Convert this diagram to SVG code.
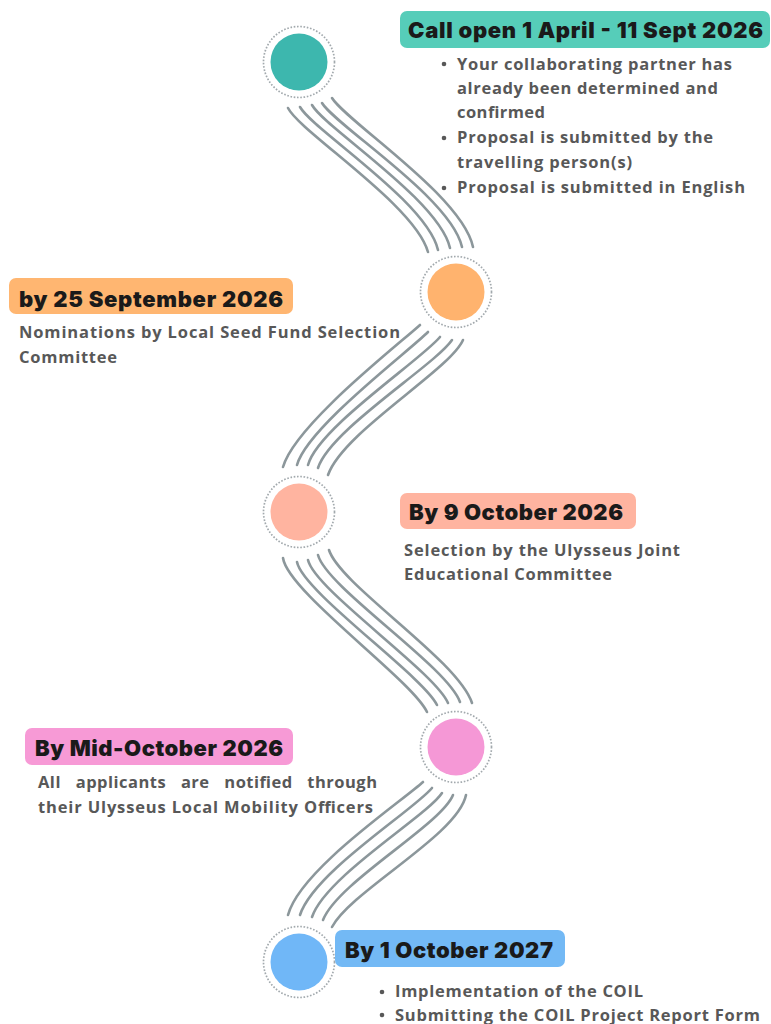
<svg xmlns="http://www.w3.org/2000/svg" width="771" height="1024" viewBox="0 0 771 1024">
<style>
.title{font-family:"Inter","Liberation Sans",sans-serif;font-weight:900;font-size:22px;fill:#1a1a1a}
.body{font-family:"Open Sans","Liberation Sans",sans-serif;font-weight:700;font-size:16.5px;fill:#585858}
.ring{fill:#ffffff;stroke:#a2a9ad;stroke-width:1.7;stroke-dasharray:1.6 1.7}
.wave{fill:none;stroke:#8c979b;stroke-width:2.6;stroke-linecap:round}
.dot{fill:#585858}
</style>
<rect width="771" height="1024" fill="#ffffff"/>
<g id="connectors">
<g id="c1">
<path class="wave" d="M288,108 C300,132 415,205 428,252"/>
<path class="wave" d="M300,107 C313,130 427,202 438,250"/>
<path class="wave" d="M312,105 C325,128 439,200 450,248"/>
<path class="wave" d="M322,103 C336,126 451,198 462,247"/>
<path class="wave" d="M332,98 C347,122 462,196 473,247"/>
</g>
<g id="c2">
<path class="wave" d="M420,325 C398,345 295,425 283,467"/>
<path class="wave" d="M428,332 C408,352 307,428 297,465"/>
<path class="wave" d="M440,337 C421,360 318,428 308,465"/>
<path class="wave" d="M452,340 C435,365 330,430 318,468"/>
<path class="wave" d="M463,340 C450,370 343,432 328,475"/>
</g>
<g id="c3">
<path class="wave" d="M283,558 C288,592 412,680 427,712"/>
<path class="wave" d="M297,562 C303,592 423,676 437,705"/>
<path class="wave" d="M308,560 C315,590 435,672 448,703"/>
<path class="wave" d="M318,555 C327,588 447,666 460,702"/>
<path class="wave" d="M329,550 C340,585 458,660 472,703"/>
</g>
<g id="c4">
<path class="wave" d="M423,782 C401,802 300,870 288,915"/>
<path class="wave" d="M432,788 C414,810 314,872 300,915"/>
<path class="wave" d="M442,793 C427,816 326,876 312,917"/>
<path class="wave" d="M453,795 C441,825 338,882 323,920"/>
<path class="wave" d="M466,795 C458,835 352,890 332,927"/>
</g>
</g>
<g id="node1">
<circle class="ring" cx="299" cy="62" r="35.5"/>
<circle cx="299" cy="62" r="28.5" fill="#3db7ae"/>
<rect x="400" y="11" width="370" height="37" rx="7" fill="#56cdb9"/>
<text class="title" x="408" y="38" textLength="355">Call open 1 April - 11 Sept 2026</text>
<circle class="dot" cx="444" cy="64" r="2.3"/>
<circle class="dot" cx="444" cy="138" r="2.3"/>
<circle class="dot" cx="444" cy="188" r="2.3"/>
<text class="body" x="457" y="70" textLength="275">Your collaborating partner has</text>
<text class="body" x="457" y="94" textLength="261">already been determined and</text>
<text class="body" x="457" y="118" textLength="88">confirmed</text>
<text class="body" x="457" y="143" textLength="256">Proposal is submitted by the</text>
<text class="body" x="457" y="168" textLength="175">travelling person(s)</text>
<text class="body" x="457" y="193" textLength="288">Proposal is submitted in English</text>
</g>
<g id="node2">
<circle class="ring" cx="456" cy="292" r="35.5"/>
<circle cx="456" cy="292" r="28.5" fill="#ffb36e"/>
<rect x="9" y="278" width="284" height="36" rx="7" fill="#ffb671"/>
<text class="title" x="19" y="307" textLength="264">by 25 September 2026</text>
<text class="body" x="19" y="338" textLength="381">Nominations by Local Seed Fund Selection</text>
<text class="body" x="19" y="363" textLength="98">Committee</text>
</g>
<g id="node3">
<circle class="ring" cx="299" cy="512" r="35.5"/>
<circle cx="299" cy="512" r="28.5" fill="#ffb4a0"/>
<rect x="400" y="493" width="236" height="36" rx="7" fill="#ffb4a0"/>
<text class="title" x="409" y="520" textLength="214">By 9 October 2026</text>
<text class="body" x="404" y="556" textLength="276">Selection by the Ulysseus Joint</text>
<text class="body" x="404" y="580" textLength="208">Educational Committee</text>
</g>
<g id="node4">
<circle class="ring" cx="456" cy="747" r="35.5"/>
<circle cx="456" cy="747" r="28.5" fill="#f598d6"/>
<rect x="25" y="728" width="268" height="37" rx="7" fill="#f79ad6"/>
<text class="title" x="35" y="756" textLength="248">By Mid-October 2026</text>
<text class="body" x="38" y="788" textLength="339" style="word-spacing:10px">All applicants are notified through</text>
<text class="body" x="38" y="813" textLength="335">their Ulysseus Local Mobility Officers</text>
</g>
<g id="node5">
<circle class="ring" cx="299" cy="962" r="35.5"/>
<circle cx="299" cy="962" r="28.5" fill="#70b7f7"/>
<rect x="335" y="930" width="230" height="37" rx="7" fill="#73b9f5"/>
<text class="title" x="345" y="958" textLength="208">By 1 October 2027</text>
<circle class="dot" cx="382" cy="992" r="2.3"/>
<circle class="dot" cx="382" cy="1015" r="2.3"/>
<text class="body" x="395" y="997" textLength="248">Implementation of the COIL</text>
<text class="body" x="395" y="1021" textLength="365">Submitting the COIL Project Report Form</text>
</g>
</svg>
